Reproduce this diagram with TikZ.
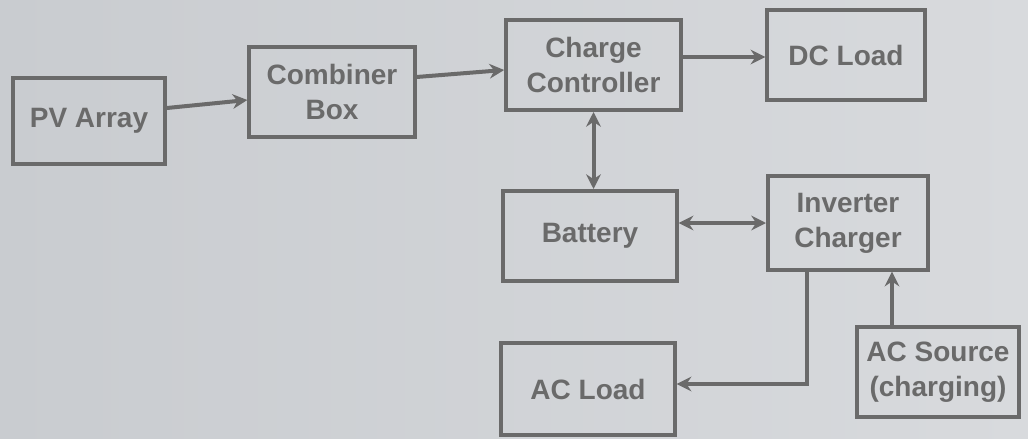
\documentclass[tikz,border=0pt]{standalone}
\usepackage{fontspec}
\setmainfont{Liberation Sans}
\usetikzlibrary{arrows.meta}
\definecolor{bgl}{HTML}{C9CCD0}
\definecolor{bgr}{HTML}{D8DADD}
\definecolor{ink}{HTML}{6A6A6A}
\begin{document}
\begin{tikzpicture}[x=0.75pt,y=-0.75pt,
  box/.style={draw=ink, line width=3pt, align=center, text=ink,
    font=\bfseries\fontsize{21}{26}\selectfont, inner sep=0pt},
  arr/.style={draw=ink, line width=3pt, -{Stealth[length=11pt,width=11pt]}},
  dbl/.style={draw=ink, line width=3pt, {Stealth[length=11pt,width=11pt]}-{Stealth[length=11pt,width=11pt]}}]
\shade[left color=bgl, right color=bgr] (0,0) rectangle (1028,439);
\useasboundingbox (0,0) rectangle (1028,439);
\node[box, minimum width=114pt, minimum height=65pt] (pv) at (89,121) {PV Array};
\node[box, minimum width=124pt, minimum height=67.5pt] (comb) at (332,92) {Combiner\\Box};
\node[box, minimum width=131pt, minimum height=67.5pt] (cc) at (593.5,65) {Charge\\Controller};
\node[box, minimum width=118pt, minimum height=67pt] (dc) at (846,55) {DC Load};
\node[box, minimum width=130pt, minimum height=67.5pt] (bat) at (590,236) {Battery};
\node[box, minimum width=120pt, minimum height=70pt] (inv) at (848,223) {Inverter\\Charger};
\node[box, minimum width=130pt, minimum height=69pt] (acl) at (588,389) {AC Load};
\node[box, minimum width=121.5pt, minimum height=67pt] (acs) at (938,372) {AC Source\\(charging)};
\draw[arr] ([yshift=9.75pt]pv.east) -- ([yshift=-6pt]comb.west);
\draw[arr] ([yshift=11.25pt]comb.east) -- ([yshift=-3.75pt]cc.west);
\draw[arr] ([yshift=6pt]cc.east) -- ([yshift=-1.5pt]dc.west);
\draw[dbl] (cc.south) -- (cc.south |- bat.north);
\draw[dbl] (bat.east |- inv.west) -- (inv.west);
\draw[arr] ([xshift=-30.75pt]inv.south) |- ([yshift=3.75pt]acl.east);
\draw[arr] ([xshift=-34.5pt]acs.north) -- ([xshift=-34.5pt]acs.north |- inv.south);
\end{tikzpicture}
\end{document}
